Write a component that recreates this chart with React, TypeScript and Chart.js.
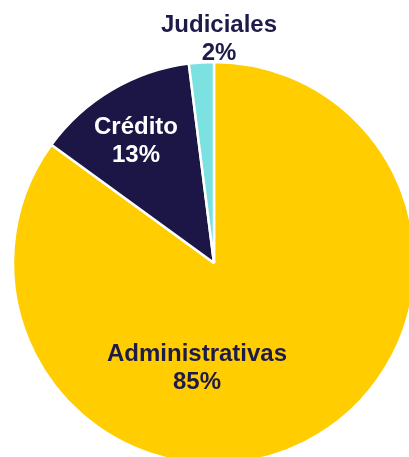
import React, { useEffect, useRef } from "react";
import { Chart, registerables } from "chart.js";

Chart.register(...registerables);

const categories = ["Administrativas", "Crédito", "Judiciales"];
const values = [85, 13, 2];
const percentLabels = ["85%", "13%", "2%"];

const sliceColors = ["#FFCD00", "#1C1647", "#7BE1E1"];
const textColors = ["#1E1A4A", "#FFFFFF", "#1E1A4A"];
// label centre offsets from the pie centre, in pixels
const labelOffsets: [number, number][] = [
  [-17, 105],
  [-78, -122],
  [5, -224],
];

const labelPlugin = {
  id: "sliceLabels",
  afterDatasetsDraw(chart: any) {
    const meta = chart.getDatasetMeta(0);
    const ctx = chart.ctx;
    ctx.save();
    ctx.font = 'bold 24px "Liberation Sans", Arial, sans-serif';
    ctx.textAlign = "center";
    ctx.textBaseline = "middle";
    meta.data.forEach((arc: any, i: number) => {
      const x = arc.x + labelOffsets[i][0];
      const y = arc.y + labelOffsets[i][1];
      ctx.fillStyle = textColors[i];
      ctx.fillText(categories[i], x, y - 14);
      ctx.fillText(percentLabels[i], x, y + 14);
    });
    ctx.restore();
  },
};

export default function App() {
  const ref = useRef<HTMLCanvasElement | null>(null);
  useEffect(() => {
    if (!ref.current) return;
    const chart = new Chart(ref.current, {
      type: "pie",
      data: {
        labels: categories,
        datasets: [
          {
            data: values,
            backgroundColor: sliceColors,
            borderColor: "#FFFFFF",
            borderWidth: 2.5,
            radius: 201,
          } as any,
        ],
      },
      options: {
        animation: false,
        responsive: true,
        maintainAspectRatio: false,
        layout: { padding: { left: 13, top: 62, right: 15, bottom: 6 } },
        plugins: {
          legend: { display: false },
          tooltip: { enabled: false },
        },
      },
      plugins: [labelPlugin],
    });
    return () => chart.destroy();
  }, []);
  return (
    <div
      style={{
        position: "fixed",
        left: 0,
        top: 0,
        right: 0,
        bottom: 0,
        overflow: "hidden",
        background: "#FFFFFF",
      }}
    >
      <div style={{ position: "absolute", left: 0, top: 0, width: 430, height: 470 }}>
        <canvas ref={ref} />
      </div>
    </div>
  );
}
